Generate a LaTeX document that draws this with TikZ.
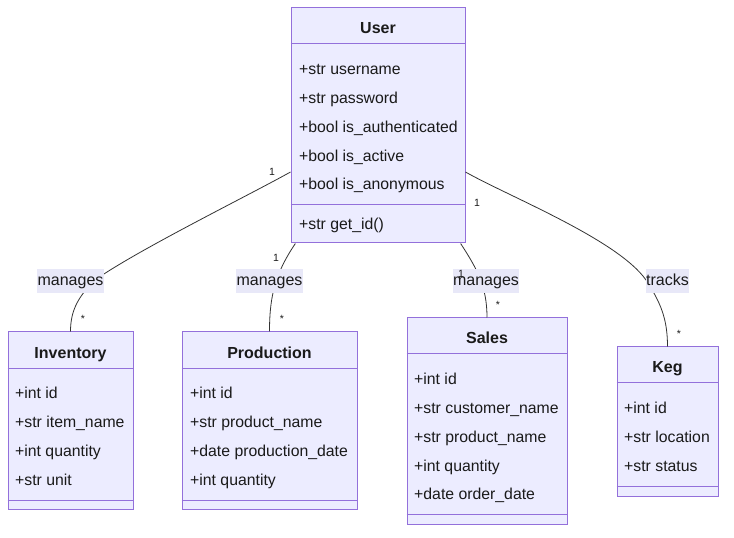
\documentclass[tikz,border=0pt]{standalone}
\usepackage{fontspec}
\setmainfont{Liberation Sans}
\definecolor{clsfill}{HTML}{ECECFF}
\definecolor{clsdraw}{HTML}{9370DB}
\definecolor{edgecol}{HTML}{333333}
\definecolor{lblfill}{HTML}{E8E8F8}
\definecolor{txtcol}{HTML}{1A1A1A}
\begin{document}
\begin{tikzpicture}[x=1pt,y=1pt,
  cls/.style={draw=clsdraw,fill=clsfill,line width=1pt,inner sep=0pt},
  sep/.style={draw=clsdraw,line width=1pt},
  ttl/.style={anchor=base,inner sep=0pt,yshift=-6.8pt,font=\fontsize{16}{19}\selectfont\bfseries,text=txtcol},
  attr/.style={anchor=base west,inner sep=0pt,yshift=-6.8pt,font=\fontsize{15.8}{19}\selectfont,text=txtcol},
  rel/.style={draw=edgecol,line width=0.8pt},
  lbl/.style={fill=lblfill,inner xsep=0.5pt,inner ysep=0pt,minimum height=24pt,text height=12pt,text depth=3.5pt,font=\fontsize{16}{19}\selectfont,text=txtcol},
  mult/.style={inner sep=0pt,font=\fontsize{10.5}{12}\selectfont,text=txtcol}]
\useasboundingbox (0,0) rectangle (734,538);

% User
\node[cls,minimum width=174pt,minimum height=235pt] (user) at (378,412.5) {};
\draw[sep] ([yshift=-36pt]user.north west) -- ([yshift=-36pt]user.north east);
\draw[sep] ([yshift=39pt]user.south west) -- ([yshift=39pt]user.south east);
\node[ttl] (user-t) at (378,511) {User};
\foreach \txt [count=\i] in {+str username,+str password,+bool is\_authenticated,+bool is\_active,+bool is\_anonymous}
  \node[attr] (user-a\i) at (299,{470-(\i-1)*28.75}) {\txt};
\node[attr] (user-m1) at (299,315) {+str get\_id()};

% Inventory
\node[cls,minimum width=125pt,minimum height=178pt] (inventory) at (70.5,117) {};
\draw[sep] ([yshift=-37pt]inventory.north west) -- ([yshift=-37pt]inventory.north east);
\draw[sep] ([yshift=10pt]inventory.south west) -- ([yshift=10pt]inventory.south east);
\node[ttl] (inventory-t) at (70.5,186) {Inventory};
\foreach \txt [count=\i] in {+int id,+str item\_name,+int quantity,+str unit}
  \node[attr] (inventory-a\i) at (15,{146-(\i-1)*28.75}) {\txt};

% Production
\node[cls,minimum width=175pt,minimum height=178pt] (production) at (269.5,117) {};
\draw[sep] ([yshift=-37pt]production.north west) -- ([yshift=-37pt]production.north east);
\draw[sep] ([yshift=10pt]production.south west) -- ([yshift=10pt]production.south east);
\node[ttl] (production-t) at (269.5,186) {Production};
\foreach \txt [count=\i] in {+int id,+str product\_name,+date production\_date,+int quantity}
  \node[attr] (production-a\i) at (190,{146-(\i-1)*28.75}) {\txt};

% Sales
\node[cls,minimum width=160pt,minimum height=207pt] (sales) at (487,116.5) {};
\draw[sep] ([yshift=-36pt]sales.north west) -- ([yshift=-36pt]sales.north east);
\draw[sep] ([yshift=11pt]sales.south west) -- ([yshift=11pt]sales.south east);
\node[ttl] (sales-t) at (487,201) {Sales};
\foreach \txt [count=\i] in {+int id,+str customer\_name,+str product\_name,+int quantity,+date order\_date}
  \node[attr] (sales-a\i) at (414,{160-(\i-1)*28.75}) {\txt};

% Keg
\node[cls,minimum width=101pt,minimum height=150pt] (keg) at (667.5,116) {};
\draw[sep] ([yshift=-36pt]keg.north west) -- ([yshift=-36pt]keg.north east);
\draw[sep] ([yshift=11pt]keg.south west) -- ([yshift=11pt]keg.south east);
\node[ttl] (keg-t) at (667.5,172) {Keg};
\foreach \txt [count=\i] in {+int id,+str location,+str status}
  \node[attr] (keg-a\i) at (624,{131-(\i-1)*28.75}) {\txt};

% relations
\coordinate (bend1) at (95,258);
\coordinate (bend4) at (646,258);
\draw[rel] (user.208) to[out=209,in=35,looseness=0.6] (bend1) to[out=225,in=90] (inventory.north);
\draw[rel] (user.235) to[out=236,in=90] (production.north);
\draw[rel] (user.305) to[out=303,in=90] (sales.north);
\draw[rel] (user.332) to[out=-29.5,in=125,looseness=0.6] (bend4) to[out=-57,in=90] (keg.north);

\node[lbl] (rel1) at (70.5,257) {manages};
\node[lbl] (rel2) at (269.5,257) {manages};
\node[lbl] (rel3) at (486,257) {manages};
\node[lbl] (rel4) at (667.5,257) {tracks};

\node[mult] (rel1-a) at (272,366) {1};
\node[mult] (rel1-b) at (83,219) {*};
\node[mult] (rel2-a) at (276,280) {1};
\node[mult] (rel2-b) at (282,219) {*};
\node[mult] (rel3-a) at (461,264) {1};
\node[mult] (rel3-b) at (498,233) {*};
\node[mult] (rel4-a) at (477,335) {1};
\node[mult] (rel4-b) at (679,204) {*};
\end{tikzpicture}
\end{document}
